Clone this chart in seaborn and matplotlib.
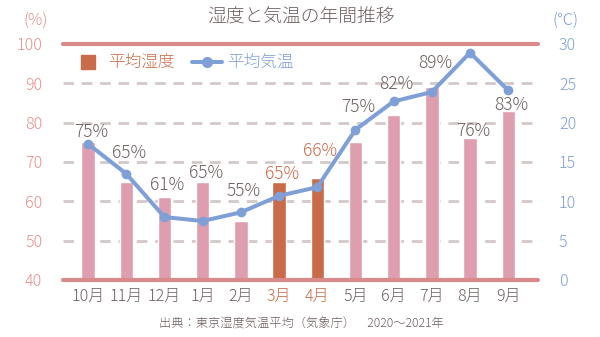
import numpy as np
import pandas as pd
import matplotlib
matplotlib.use("Agg")
import matplotlib.pyplot as plt
from matplotlib.lines import Line2D
import seaborn as sns

# ---- data ----
months = ["10月", "11月", "12月", "1月", "2月", "3月", "4月", "5月", "6月", "7月", "8月", "9月"]
humidity = [75, 65, 61, 65, 55, 65, 66, 75, 82, 89, 76, 83]
temperature = [17.3, 13.5, 8.0, 7.5, 8.6, 10.7, 11.8, 19.1, 22.7, 23.9, 28.9, 24.1]
highlight = ["3月", "4月"]
left_ticks = [40, 50, 60, 70, 80, 90, 100]
right_ticks = [0, 5, 10, 15, 20, 25, 30]
title = "湿度と気温の年間推移"
source = "出典：東京湿度気温平均（気象庁）　2020〜2021年"

# ---- style / layout ----
label_gap = [2.6, 7.3, 3.2, 2.3, 7.6, 1.9, 6.9, 9.0, 7.8, 6.2, 1.9, 1.5]
PINK = "#DF9EAF"
ORANGE = "#C96B48"
BLUE = "#7F9FD7"
AXPINK = "#D98A8A"
TICKPINK = "#E3908E"
GREY = "#6E5F5F"
GRID = "#D4C8C8"
W = 300  # light font weight

sns.set_theme(style="white")
plt.rcParams["font.family"] = ["Noto Sans CJK JP", "DejaVu Sans"]
plt.rcParams["font.weight"] = W

fig = plt.figure(figsize=(6, 3.37), dpi=100)
ax = fig.add_axes([63 / 600, 1 - 280 / 337, 475 / 600, 236 / 337])

df = pd.DataFrame({"month": months, "humidity": humidity, "temp": temperature})
df["x"] = np.arange(len(df))
palette = {m: (ORANGE if m in highlight else PINK) for m in months}
sns.barplot(data=df, x="month", y="humidity", hue="month", palette=palette,
            legend=False, width=0.35, ax=ax, saturation=1, zorder=2)

ax.set_ylim(40, 100)
ax.set_xlim(-0.656, 11.78)
for s in ax.spines.values():
    s.set_visible(False)
for v in left_ticks[1:-1]:
    ax.axhline(v, color=GRID, lw=2, linestyle=(0, (3.8, 2.8)), zorder=1)
ax.axhline(100, color=AXPINK, lw=3, zorder=3, clip_on=False)
ax.axhline(40, color=AXPINK, lw=3, zorder=3, clip_on=False)

ax.set_yticks(left_ticks)
ax.set_yticklabels([str(t) for t in left_ticks], color=TICKPINK, fontsize=11.5, fontweight=W)
ax.tick_params(axis="y", length=0, pad=15)
ax.tick_params(axis="x", length=0, pad=6)
ax.set_xticks(range(len(months)))
ax.set_xticklabels(months, fontsize=11.5, fontweight=W)
for lbl, m in zip(ax.get_xticklabels(), months):
    lbl.set_color(ORANGE if m in highlight else GREY)
ax.set_xlabel("")
ax.set_ylabel("")

ax2 = ax.twinx()
sns.lineplot(data=df, x="x", y="temp", ax=ax2, color=BLUE, lw=2.9, marker="o",
             markersize=7, markeredgewidth=0, zorder=4)
ax2.set_ylim(0, 30)
ax2.set_xlim(-0.656, 11.78)
for s in ax2.spines.values():
    s.set_visible(False)
ax2.set_yticks(right_ticks)
ax2.set_yticklabels([str(t) for t in right_ticks], color=BLUE, fontsize=11.5, fontweight=W)
ax2.tick_params(axis="y", length=0, pad=15)
ax2.set_ylabel("")
ax2.set_xlabel("")
ax2.grid(False)
ax.grid(False)

# value labels
for i, (m, h) in enumerate(zip(months, humidity)):
    ax2.text(i + 0.08, h + label_gap[i], f"{h}%", transform=ax.transData,
             ha="center", va="center", fontsize=12.5, fontweight=W,
             color=ORANGE if m in highlight else GREY, zorder=6)

# unit labels
fig.text(36 / 600, 1 - 20 / 337, "(%)", ha="center", va="center", fontsize=11.5,
         color=TICKPINK, fontweight=W)
fig.text(566 / 600, 1 - 20 / 337, "(℃)", ha="center", va="center", fontsize=11.5,
         color=BLUE, fontweight=W)
fig.text(301 / 600, 1 - 18 / 337, title, ha="center", va="center", fontsize=13.5,
         color=GREY, fontweight=W)
fig.text(301 / 600, 1 - 324 / 337, source, ha="center", va="center", fontsize=8.8,
         color=GREY, fontweight=W)

handles = [Line2D([], [], marker="s", linestyle="none", color=ORANGE, markersize=9.5),
           Line2D([], [], marker="o", color=BLUE, lw=2.9, markersize=7)]
leg = ax.legend(handles, ["平均湿度", "平均気温"], loc="center left",
                bbox_to_anchor=(0.022, 0.919), ncol=2, frameon=False,
                borderpad=0, borderaxespad=0,
                prop={"size": 12, "weight": W}, handlelength=1.8,
                columnspacing=1.1, handletextpad=0.25, labelcolor=[ORANGE, BLUE])
leg.set_zorder(10)

fig.savefig("out.png", dpi=100)
